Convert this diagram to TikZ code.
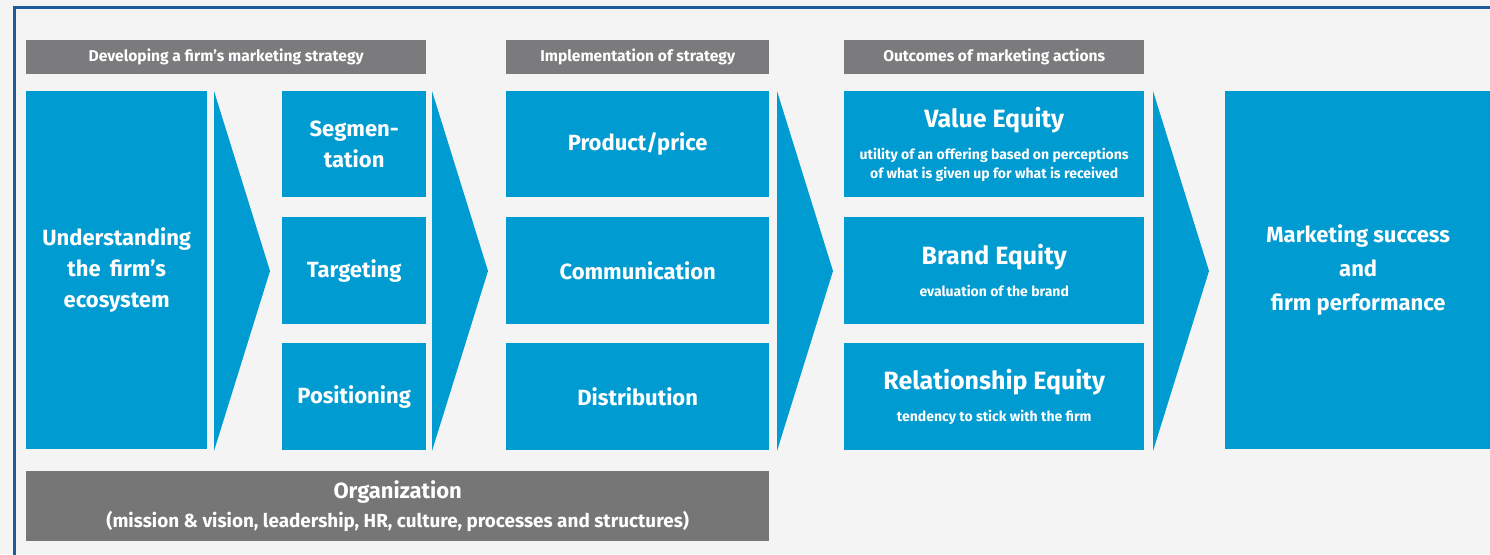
\documentclass[tikz,border=0pt]{standalone}
\usepackage{fontspec}
\setmainfont{Fira Sans}
\usetikzlibrary{positioning}
\definecolor{mblue}{RGB}{0,155,209}
\definecolor{hgray}{RGB}{123,123,125}
\definecolor{ogray}{RGB}{118,118,118}
\definecolor{frameblue}{RGB}{28,92,152}
\definecolor{bggray}{RGB}{244,244,244}
\tikzset{
  box/.style={fill=mblue, text=white, align=center, inner sep=0pt, anchor=north west,
    font=\bfseries\fontsize{22}{31}\selectfont},
  head/.style={fill=hgray, text=white, inner sep=0pt, anchor=north west,
    minimum height=34, font=\bfseries\fontsize{15.6}{18}\selectfont},
}
\newcommand{\sub}[1]{{\fontsize{14}{19}\selectfont #1}}
\newcommand{\eqtitle}[1]{{\fontsize{25}{34}\selectfont #1}}
\begin{document}
\begin{tikzpicture}[x=1pt, y=-1pt]
\useasboundingbox (0,0) rectangle (1490,554);
\fill[bggray] (0,0) rectangle (1490,554);
\draw[frameblue, line width=3] (14,560) -- (14,7) -- (1500,7);
% headers
\node[head, minimum width=400] (hdev) at (26,40)  {Developing a firm’s marketing strategy};
\node[head, minimum width=263] (himp) at (506,40) {Implementation of strategy};
\node[head, minimum width=300] (hout) at (844,40) {Outcomes of marketing actions};
% first column
\node[box, minimum width=181, minimum height=358] (eco) at (26,91) {Understanding\\the\hspace{4pt} firm’s\\ecosystem};
% STP
\node[box, minimum width=144, minimum height=106] (seg)  at (282,91)  {Segmen-\\tation};
\node[box, minimum width=144, minimum height=107] (targ) at (282,217) {Targeting};
\node[box, minimum width=144, minimum height=107] (pos)  at (282,343) {Positioning};
% marketing mix
\node[box, minimum width=263, minimum height=106] (prod) at (506,91)  {Product/price};
\node[box, minimum width=263, minimum height=107] (comm) at (506,217) {Communication};
\node[box, minimum width=263, minimum height=107] (dist) at (506,343) {Distribution};
% equities
\node[box, minimum width=300, minimum height=106] (veq) at (844,91)
  {\eqtitle{Value Equity}\\[1pt]
   \sub{utility of an offering based on perceptions}\\[-12pt]
   \sub{of what is given up for what is received}};
\node[box, minimum width=300, minimum height=107] (beq) at (844,217)
  {\eqtitle{Brand Equity}\\[1pt]
   \sub{evaluation of the brand}};
\node[box, minimum width=300, minimum height=107] (req) at (844,343)
  {\eqtitle{Relationship Equity}\\[1pt]
   \sub{tendency to stick with the firm}};
% outcome
\node[box, minimum width=266, minimum height=358, font=\bfseries\fontsize{22}{34}\selectfont] (succ) at (1225,91)
  {Marketing success\\and\\firm performance};
% organization
\node[box, fill=ogray, minimum width=743, minimum height=70, font=\bfseries\fontsize{22}{29}\selectfont] (org) at (26,471)
  {Organization\\{\fontsize{18.9}{22}\selectfont (mission \& vision, leadership, HR, culture, processes and structures)}};
% chevrons
\foreach \x in {214,432,777,1153}
  \fill[mblue] (\x,91) -- (\x+56,271) -- (\x,451) -- cycle;
\end{tikzpicture}
\end{document}
